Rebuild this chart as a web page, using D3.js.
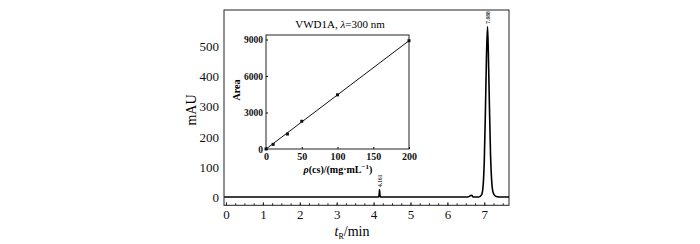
<!DOCTYPE html>
<html>
<head>
<meta charset="utf-8">
<script src="https://cdn.jsdelivr.net/npm/d3@7"></script>
<style>
  body { margin: 0; background: #fff; }
  svg { display: block; font-family: "Liberation Serif", "Times New Roman", serif; }
  .tick text { font-family: "Liberation Serif", "Times New Roman", serif; fill: #111; }
</style>
</head>
<body>
<div id="chart"></div>
<script>
// datos (cromatograma)
const chromT = [-0.05, 1.0, 2.0, 3.0, 4.10, 4.14, 4.155, 4.161, 4.167, 4.18, 4.22, 5.0, 6.0, 6.55, 6.62, 6.66, 6.70, 6.85, 6.93, 6.97, 7.00, 7.03, 7.06, 7.088, 7.11, 7.14, 7.17, 7.20, 7.24, 7.30, 7.40, 7.67];
const chromA = [0, 0, 0, 0, 0, 1, 15, 24, 15, 1, 0, 0, 0, 0, 4, 6, 0, 0, 8, 40, 120, 280, 470, 567, 480, 300, 140, 55, 15, 3, 0, 0];
const peakTimes = [4.161, 7.088];
const peakLabels = ["4.161", "7.088"];
const xTicks = [0, 1, 2, 3, 4, 5, 6, 7];
const xMinor = d3.range(0, 7.6, 0.25);
const yTicks = [0, 100, 200, 300, 400, 500];

// curva de calibracion (inset)
const calConc = [0, 10, 30, 50, 100, 200];
const calArea = [0, 380, 1230, 2280, 4450, 8900];
const fitConc = [0, 200];
const fitArea = [-40, 8900];
const insetXTicks = [0, 50, 100, 150, 200];
const insetYTicks = [0, 3000, 6000, 9000];

const W = 700, H = 244;
const svg = d3.select("#chart").append("svg").attr("width", W).attr("height", H);

// escaladores principales
const x = d3.scaleLinear().domain([-0.054, 7.67]).range([224, 509]);
const y = d3.scaleLinear().domain([-27.6, 622]).range([205.3, 10]);

const g = svg.append("g");

// ejes
g.append("g")
  .attr("transform", `translate(0,${y.range()[0]})`)
  .call(d3.axisBottom(x).tickValues(xMinor).tickSize(-2).tickFormat(""))
  .call(s => s.select(".domain").remove())
  .call(s => s.selectAll("line").attr("stroke", "#222"));

g.append("g")
  .attr("transform", `translate(0,${y.range()[0]})`)
  .call(d3.axisBottom(x).tickValues(xTicks).tickSize(-3).tickPadding(5).tickFormat(d3.format("d")))
  .call(s => s.select(".domain").remove())
  .call(s => s.selectAll("line").attr("stroke", "#222"))
  .call(s => s.selectAll("text").attr("font-size", 13).attr("dy", "0.68em"));

g.append("g")
  .attr("transform", `translate(${x.range()[0]},0)`)
  .call(d3.axisLeft(y).tickValues(yTicks).tickSize(0).tickPadding(5))
  .call(s => s.select(".domain").remove())
  .call(s => s.selectAll("text").attr("font-size", 13));

// marco
g.append("rect")
  .attr("x", x.range()[0]).attr("y", y.range()[1])
  .attr("width", x.range()[1] - x.range()[0])
  .attr("height", y.range()[0] - y.range()[1])
  .attr("fill", "none").attr("stroke", "#222").attr("stroke-width", 1);

// cromatograma
const line = d3.line().x(d => x(d[0])).y(d => y(d[1])).curve(d3.curveMonotoneX);
g.append("path")
  .datum(chromT.map((t, i) => [t, chromA[i]]))
  .attr("d", line)
  .attr("fill", "none").attr("stroke", "#000").attr("stroke-width", 1.6);

// etiquetas de picos
const peakTop = t => chromA[chromT.indexOf(t)];
g.selectAll(".peaklab").data(peakTimes).enter().append("text")
  .attr("class", "peaklab")
  .attr("transform", d => `translate(${x(d) + 1},${y(peakTop(d)) - 9}) rotate(-90)`)
  .attr("text-anchor", "middle").attr("dy", "0.35em")
  .attr("font-size", 5.5).attr("font-weight", "bold").attr("fill", "#333")
  .text((d, i) => peakLabels[i]);

// titulos de ejes
svg.append("text")
  .attr("transform", "translate(196,110) rotate(-90)")
  .attr("text-anchor", "middle").attr("font-size", 14).text("mAU");

const xl = svg.append("text").attr("x", 352).attr("y", 236).attr("text-anchor", "middle").attr("font-size", 14);
xl.append("tspan").attr("font-style", "italic").text("t");
xl.append("tspan").attr("font-size", 8).attr("dy", 3).text("R");
xl.append("tspan").attr("dy", -3).text("/min");

// ---- inset ----
const ix = d3.scaleLinear().domain([0, 200]).range([266, 409]);
const iy = d3.scaleLinear().domain([0, 9370]).range([149, 35]);

svg.append("rect")
  .attr("x", ix.range()[0]).attr("y", iy.range()[1])
  .attr("width", ix.range()[1] - ix.range()[0])
  .attr("height", iy.range()[0] - iy.range()[1])
  .attr("fill", "#fff").attr("stroke", "#222").attr("stroke-width", 1);

svg.append("g")
  .attr("transform", `translate(0,${iy.range()[0]})`)
  .call(d3.axisBottom(ix).tickValues(insetXTicks).tickSize(-2).tickPadding(3).tickFormat(d3.format("d")))
  .call(s => s.select(".domain").remove())
  .call(s => s.selectAll("text").attr("font-size", 10).attr("font-weight", "bold").attr("dy", "0.75em"));

svg.append("g")
  .attr("transform", `translate(${ix.range()[0]},0)`)
  .call(d3.axisLeft(iy).tickValues(insetYTicks).tickSize(-2).tickPadding(3).tickFormat(d3.format("d")))
  .call(s => s.select(".domain").remove())
  .call(s => s.selectAll("text").attr("font-size", 9.5).attr("font-weight", "bold"));

svg.append("path")
  .datum(fitConc.map((c, i) => [c, fitArea[i]]))
  .attr("d", d3.line().x(d => ix(d[0])).y(d => iy(Math.max(d[1], 0))))
  .attr("fill", "none").attr("stroke", "#111").attr("stroke-width", 1);

svg.selectAll(".pt").data(calConc).enter().append("rect")
  .attr("class", "pt")
  .attr("x", d => ix(d) - 1.5)
  .attr("y", (d, i) => iy(calArea[i]) - 1.5)
  .attr("width", 3).attr("height", 3).attr("fill", "#111");

svg.append("text")
  .attr("transform", "translate(240,90) rotate(-90)")
  .attr("text-anchor", "middle").attr("font-size", 10).attr("font-weight", "bold").text("Area");

const il = svg.append("text").attr("x", 338).attr("y", 173).attr("text-anchor", "middle")
  .attr("font-size", 10).attr("font-weight", "bold");
il.append("tspan").attr("font-style", "italic").text("ρ");
il.append("tspan").text("(cs)/(mg·mL");
il.append("tspan").attr("font-size", 7).attr("dy", -4).text("−1");
il.append("tspan").attr("dy", 4).text(")");

const tt = svg.append("text").attr("x", 340).attr("y", 28).attr("text-anchor", "middle").attr("font-size", 11);
tt.append("tspan").text("VWD1A, ");
tt.append("tspan").attr("font-style", "italic").text("λ");
tt.append("tspan").text("=300 nm");
</script>
</body>
</html>
